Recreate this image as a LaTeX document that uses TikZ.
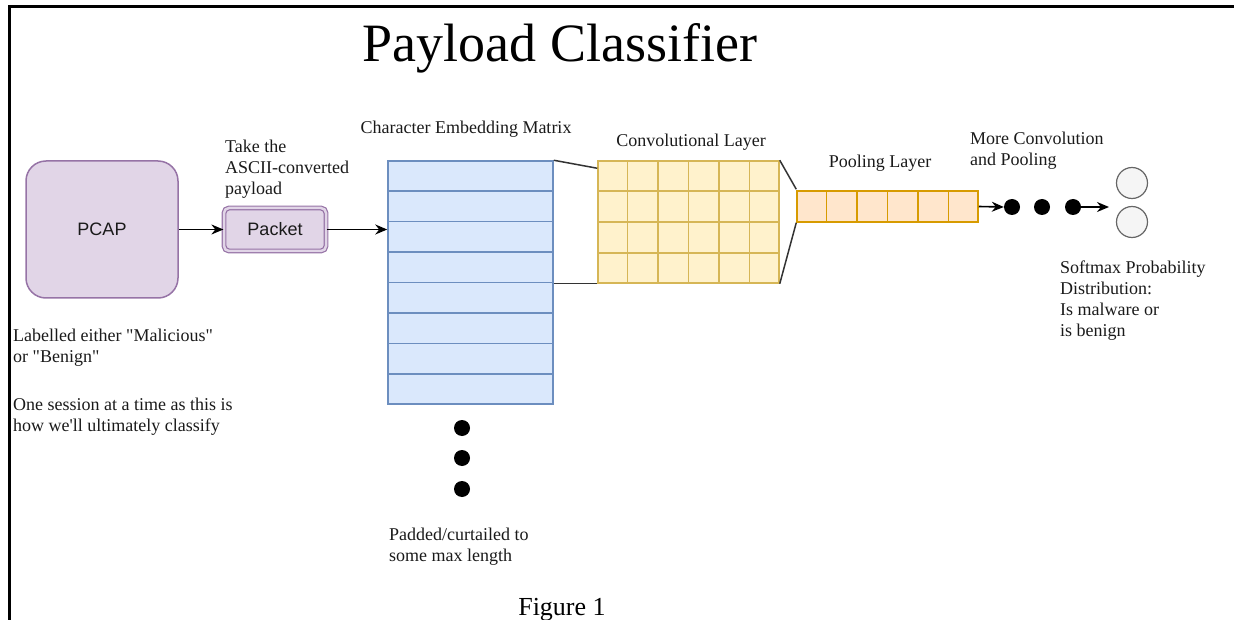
\documentclass[tikz,border=0pt]{standalone}
\usepackage{fontspec}
\newfontfamily\labfont{Liberation Serif}
\newfontfamily\boxfont{Liberation Sans}
\usetikzlibrary{arrows.meta,calc}

\definecolor{inktext}{HTML}{1A1A1A}
\definecolor{pcapfill}{HTML}{E1D5E7}
\definecolor{pcapline}{HTML}{9673A6}
\definecolor{embfill}{HTML}{DAE8FC}
\definecolor{embline}{HTML}{6C8EBF}
\definecolor{convfill}{HTML}{FFF2CC}
\definecolor{convline}{HTML}{D6B656}
\definecolor{poolfill}{HTML}{FFE6CC}
\definecolor{poolline}{HTML}{D79B00}
\definecolor{outfill}{HTML}{F5F5F5}
\definecolor{outline}{HTML}{666666}

\begin{document}
\begin{tikzpicture}[x=1pt,y=-1pt,
  lab/.style={font=\labfont\fontsize{18}{21}\selectfont, text=inktext, inner sep=0pt, align=left, anchor=north west},
  caption/.style={font=\labfont\fontsize{18}{21}\selectfont, text=inktext, inner sep=0pt, anchor=base},
  pcapbox/.style={draw=pcapline, fill=pcapfill, line width=1.5pt, rounded corners=20pt,
    font=\boxfont\fontsize{18}{21}\selectfont, text=inktext, inner sep=0pt},
  packetbox/.style={draw=pcapline, double=pcapfill, double distance=2.5pt, line width=1.2pt,
    fill=pcapfill, rounded corners=5pt, font=\boxfont\fontsize{18}{21}\selectfont, text=inktext, inner sep=0pt},
  embbox/.style={draw=embline, fill=embfill, line width=1.5pt, inner sep=0pt},
  convbox/.style={draw=convline, fill=convfill, line width=1.5pt, inner sep=0pt},
  poolbox/.style={draw=poolline, fill=poolfill, line width=1.5pt, inner sep=0pt},
  gridline/.style={line width=1.5pt},
  outcirc/.style={circle, draw=outline, fill=outfill, line width=1.2pt, minimum size=31pt, inner sep=0pt},
  bigdot/.style={circle, fill=black, minimum size=16pt, inner sep=0pt},
  arr/.style={line width=1.6pt, -{Stealth[length=12pt,width=10pt]}},
  link/.style={line width=1.5pt, draw=black!80},
  frame/.style={line width=3pt, line cap=rect}
]
\useasboundingbox (0,0) rectangle (1234,620);

% page frame (top and left edges)
\draw[frame] (9,620) -- (9,7) -- (1234,7);

% title and figure caption
\node[font=\labfont\fontsize{54}{60}\selectfont, text=black, inner sep=0pt, anchor=base] (title) at (560,62) {Payload Classifier};
\node[font=\labfont\fontsize{26}{30}\selectfont, text=black, inner sep=0pt, anchor=base] (figcap) at (562,615) {Figure 1};

% input stage
\node[pcapbox, minimum width=152pt, minimum height=137pt] (pcap) at (102,229.5) {PCAP};
\node[packetbox, minimum width=102pt, minimum height=43pt] (packet) at (275,229.5) {Packet};
\node[lab] (takelab) at (225,139.7) {Take the\\ASCII-converted\\payload};

% character embedding matrix (8 rows)
\node[embbox, minimum width=165pt, minimum height=243pt] (emb) at (470.5,282.5) {};
\foreach \i in {1,...,7}
  \draw[embline, gridline] ($(emb.north west)!\i/8!(emb.south west)$) -- ($(emb.north east)!\i/8!(emb.south east)$);
\node[caption] (emblab) at (466,134) {Character Embedding Matrix};

% vertical ellipsis below the matrix
\node[bigdot] (v1) at (462,428) {};
\node[bigdot] (v2) at (462,458) {};
\node[bigdot] (v3) at (462,489) {};
\node[lab] (padlab) at (389,527.7) {Padded/curtailed to\\some max length};

% convolutional layer (6 x 4 grid)
\node[convbox, minimum width=181pt, minimum height=122pt] (conv) at (688.5,222) {};
\foreach \i in {1,...,5}
  \draw[convline, gridline] ($(conv.north west)!\i/6!(conv.north east)$) -- ($(conv.south west)!\i/6!(conv.south east)$);
\foreach \i in {1,...,3}
  \draw[convline, gridline] ($(conv.north west)!\i/4!(conv.south west)$) -- ($(conv.north east)!\i/4!(conv.south east)$);
\node[caption] (convlab) at (691,147) {Convolutional Layer};

% pooling layer (6 cells)
\node[poolbox, minimum width=181pt, minimum height=31pt] (pool) at (887.5,206.5) {};
\foreach \i in {1,...,5}
  \draw[poolline, gridline] ($(pool.north west)!\i/6!(pool.north east)$) -- ($(pool.south west)!\i/6!(pool.south east)$);
\node[caption] (poollab) at (880,168) {Pooling Layer};

% receptive-field lines between the stages
\draw[link] (emb.north east) -- ($(conv.north west)+(0,8)$);
\draw[link] (conv.south west -| emb.east) -- (conv.south west);
\draw[link] (conv.north east) -- ($(pool.north west)+(0,-1)$);
\draw[link] (conv.south east) -- (pool.south west);

% further convolution/pooling and the softmax output
\node[bigdot] (d1) at (1012,207) {};
\node[bigdot] (d2) at (1042,207) {};
\node[bigdot] (d3) at (1073,207) {};
\coordinate (smin) at (1109,207);
\node[outcirc] (o1) at (1132,183) {};
\node[outcirc] (o2) at (1132,222) {};
\node[lab] (morelab) at (970,131.7) {More Convolution\\and Pooling};
\node[lab] (smlab) at (1060,260.7) {Softmax Probability\\Distribution:\\Is malware or\\is benign};

% side notes
\node[lab] (labelnote) at (13,328.7) {Labelled either "Malicious"\\or "Benign"};
\node[lab] (sessnote) at (13,397.7) {One session at a time as this is\\how we'll ultimately classify};

% data-flow arrows
\draw[arr] (pcap.east) -- (packet.west);
\draw[arr] (packet.east) -- (packet.east -| emb.west);
\draw[arr] (pool.east) -- (d1.west);
\draw[arr] (d3.east) -- (smin);
\end{tikzpicture}
\end{document}
